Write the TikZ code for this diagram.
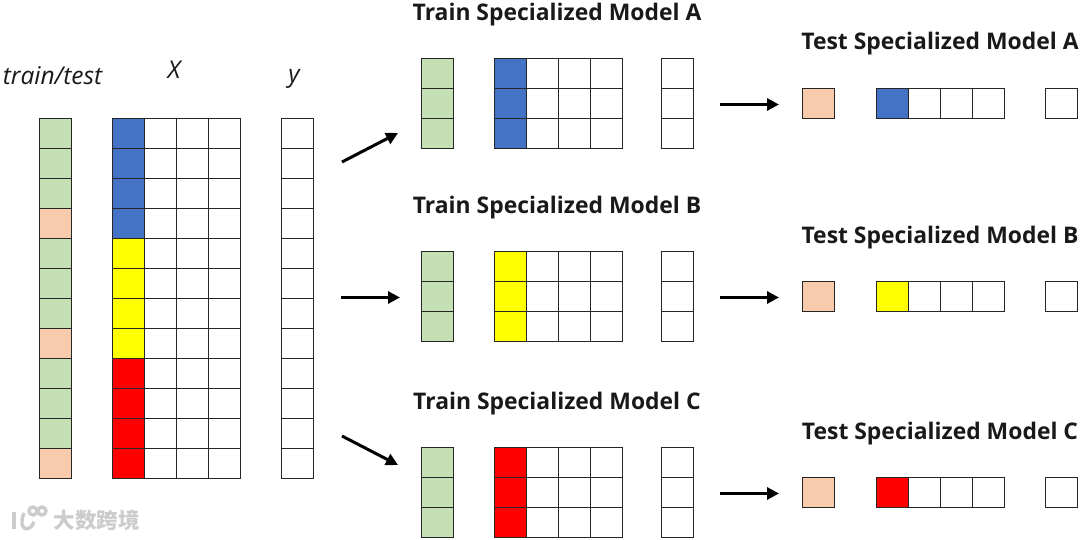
\documentclass[tikz,border=0pt]{standalone}
\usepackage{fontspec}
\setmainfont{Open Sans}
\newfontfamily\cjk{Noto Sans CJK SC}
\usetikzlibrary{arrows.meta}
\definecolor{cgreen}{HTML}{C5E0B4}
\definecolor{corange}{HTML}{F8CBAD}
\definecolor{cblue}{HTML}{4472C4}
\definecolor{cyellow}{HTML}{FFFF00}
\definecolor{cred}{HTML}{FF0000}
\definecolor{cwhite}{HTML}{FFFFFF}
\tikzset{
  cell/.style={draw=black!85,line width=0.9pt,rectangle,inner sep=0pt,outer sep=0pt,
    minimum width=32pt,minimum height=30pt,anchor=north west,fill=#1,xshift=0.2pt,yshift=-0.1pt},
  cell/.default=cwhite,
  title/.style={font=\bfseries\fontsize{22.9}{26}\selectfont,inner sep=0pt,text=black!90},
  axis/.style={font=\itshape\fontsize{24.5}{28}\selectfont,inner sep=0pt,text=black!90},
  flow/.style={draw=black,line width=3pt,-{Triangle[length=12pt,width=12pt]},shorten >=0pt},
  wmtext/.style={font=\cjk\bfseries\fontsize{21.5}{24}\selectfont,inner sep=0pt}
}
% \gridrow{name}{y}{xlabel x}{label col x}{colour of label}{colour of first X}{y col x}
\newcommand{\gridrow}[7]{%
  \node[cell=#5] (#1L) at (#4,#2) {};
  \node[cell=#6] (#1Xa) at (#3,#2) {};
  \node[cell] (#1Xb) at (#3+32,#2) {};
  \node[cell] (#1Xc) at (#3+64,#2) {};
  \node[cell] (#1Xd) at (#3+96,#2) {};
  \node[cell] (#1Y) at (#7,#2) {};
}
\begin{document}
\begin{tikzpicture}[x=1pt,y=-1pt]
\useasboundingbox (0,0) rectangle (1080,540);
% Left table
\foreach \i/\lab/\fc in {0/cgreen/cblue,1/cgreen/cblue,2/cgreen/cblue,3/corange/cblue,
  4/cgreen/cyellow,5/cgreen/cyellow,6/cgreen/cyellow,7/corange/cyellow,
  8/cgreen/cred,9/cgreen/cred,10/cgreen/cred,11/corange/cred}{
  \gridrow{m\i}{118+30*\i}{112}{39}{\lab}{\fc}{281}
}
\node[axis] (ltt) at (52.5,76) {train/test};
\node[axis] (lx) at (174,70) {X};
\node[axis] (ly) at (294,79) {y};
% Train tables
\foreach \i in {0,1,2}{
  \gridrow{ta\i}{58+30*\i}{494}{421}{cgreen}{cblue}{661}
  \gridrow{tb\i}{251+30*\i}{494}{421}{cgreen}{cyellow}{661}
  \gridrow{tc\i}{447+30*\i}{494}{421}{cgreen}{cred}{661}
}
% Test rows
\gridrow{sa}{88}{876}{802}{corange}{cblue}{1045}
\gridrow{sb}{281}{876}{802}{corange}{cyellow}{1045}
\gridrow{sc}{477}{876}{802}{corange}{cred}{1045}
% Titles
\node[title] (tta) at (557,15) {Train Specialized Model A};
\node[title] (ttb) at (557,208) {Train Specialized Model B};
\node[title] (ttc) at (557,404) {Train Specialized Model C};
\node[title] (tsa) at (940,44) {Test Specialized Model A};
\node[title] (tsb) at (940,238) {Test Specialized Model B};
\node[title] (tsc) at (940,434) {Test Specialized Model C};
% Arrow ends
\coordinate (a1s) at (342,162); \coordinate (a1e) at (398,133);
\coordinate (a2s) at (341,297.5); \coordinate (a2e) at (400,297.5);
\coordinate (a3s) at (342,436); \coordinate (a3e) at (398,465);
\coordinate (b1s) at (720,104.5); \coordinate (b1e) at (779,104.5);
\coordinate (b2s) at (720,297.5); \coordinate (b2e) at (779,297.5);
\coordinate (b3s) at (720,493.5); \coordinate (b3e) at (779,493.5);
\foreach \p in {a1,a2,a3,b1,b2,b3}{\draw[flow] (\p s) -- (\p e);}
% Watermark
\begin{scope}[line width=3.4pt,draw=black!20,fill=none]
  \draw (14,512) -- (14,529);
  \draw (24,513) .. controls (17,531) and (30,533) .. (34,522);
  \draw (33,511) circle (4pt);
  \draw (42,511) circle (4pt);
\end{scope}
\node[wmtext,text=black!20] (wm) at (96.5,520) {大数跨境};
\end{tikzpicture}
\end{document}
